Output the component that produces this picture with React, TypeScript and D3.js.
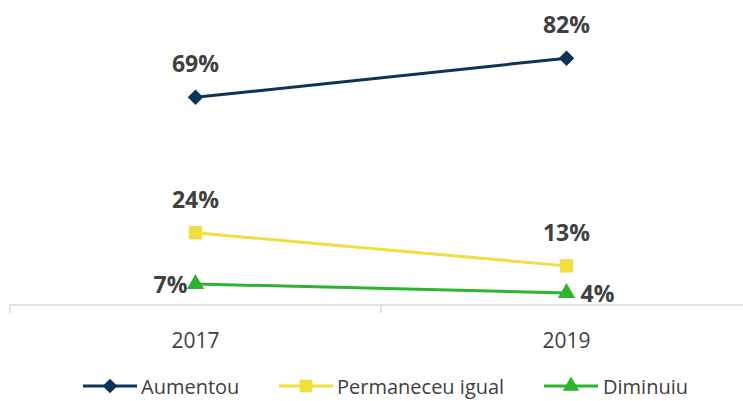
import * as d3 from 'd3'

const years = ['2017', '2019']
const aumentou = [69, 82]
const permaneceu = [24, 13]
const diminuiu = [7, 4]

const width = 743
const height = 401
const axisY = 305
const legendY = 386

const series = [
  { name: 'Aumentou', values: aumentou, color: '#0d3357', symbol: d3.symbolSquare, size: 120, rotate: 45 },
  { name: 'Permaneceu igual', values: permaneceu, color: '#f0df3c', symbol: d3.symbolSquare, size: 180, rotate: 0 },
  { name: 'Diminuiu', values: diminuiu, color: '#2bb52d', symbol: d3.symbolTriangle, size: 130, rotate: 0 },
]

const x = d3.scaleBand().domain(years).range([10, 752])
const y = d3.scaleLinear().domain([0, 100]).range([axisY, 4])
const cx = (d: string) => (x(d) ?? 0) + x.bandwidth() / 2

const labelFont = "'Open Sans', sans-serif"

function labelPos(si: number, i: number, v: number) {
  // data labels: above for the first two series, beside for the last
  if (si < 2) return { x: cx(years[i]), y: y(v) - 34, anchor: 'middle' }
  if (i === 0) return { x: cx(years[i]) - 8, y: y(v), anchor: 'end' }
  return { x: cx(years[i]) + 14, y: y(v), anchor: 'start' }
}

const legend = [
  { x: 83, textX: 141 },
  { x: 279, textX: 337 },
  { x: 544, textX: 603 },
]

function App() {
  const line = d3
    .line<number>()
    .x((_, i) => cx(years[i]))
    .y((v) => y(v))

  return (
    <svg width={width} height={height} style={{ position: 'absolute', left: 0, top: 0 }}>
      <rect width={width} height={height} fill="#fff" />
      <line x1={10} x2={width} y1={axisY} y2={axisY} stroke="#d9d9d9" strokeWidth={1.5} />
      {[10, 381].map((t) => (
        <line key={t} x1={t} x2={t} y1={axisY} y2={axisY + 8} stroke="#d9d9d9" strokeWidth={1.5} />
      ))}
      {years.map((yr) => (
        <text
          key={yr}
          x={cx(yr)}
          y={340}
          textAnchor="middle"
          dominantBaseline="central"
          fontFamily={labelFont}
          fontSize={21}
          fill="#404040"
        >
          {yr}
        </text>
      ))}
      {series.map((s, si) => (
        <g key={s.name}>
          <path d={line(s.values) ?? ''} fill="none" stroke={s.color} strokeWidth={3} />
          {s.values.map((v, i) => (
            <path
              key={i}
              transform={`translate(${cx(years[i])},${y(v)}) rotate(${s.rotate})`}
              d={d3.symbol(s.symbol, s.size)() ?? ''}
              fill={s.color}
            />
          ))}
          {s.values.map((v, i) => {
            const p = labelPos(si, i, v)
            return (
              <text
                key={'l' + i}
                x={p.x}
                y={p.y}
                textAnchor={p.anchor as any}
                dominantBaseline="central"
                fontFamily={labelFont}
                fontWeight="bold"
                fontSize={23}
                fill="#404040"
              >
                {v}%
              </text>
            )
          })}
        </g>
      ))}
      {series.map((s, si) => (
        <g key={'lg' + s.name}>
          <line x1={legend[si].x} x2={legend[si].x + 54} y1={legendY} y2={legendY} stroke={s.color} strokeWidth={3} />
          <path
            transform={`translate(${legend[si].x + 27},${legendY}) rotate(${s.rotate})`}
            d={d3.symbol(s.symbol, s.size * 0.9)() ?? ''}
            fill={s.color}
          />
          <text
            x={legend[si].textX}
            y={legendY}
            dominantBaseline="central"
            fontFamily={labelFont}
            fontSize={20}
            fill="#404040"
          >
            {s.name}
          </text>
        </g>
      ))}
    </svg>
  )
}

export default App
